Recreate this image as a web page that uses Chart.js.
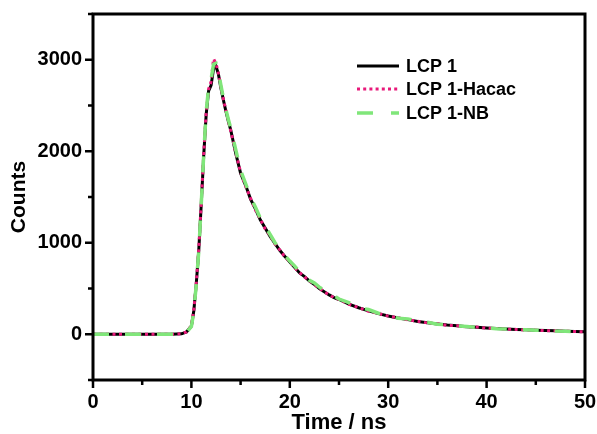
<!DOCTYPE html>
<html>
<head>
<meta charset="utf-8">
<script src="https://cdn.jsdelivr.net/npm/chart.js@4/dist/chart.umd.min.js"></script>
<style>
  html, body { margin: 0; padding: 0; background: #fff; }
  #wrap { width: 597px; height: 434px; position: relative; }
</style>
</head>
<body>
<div id="wrap"><canvas id="c"></canvas></div>
<script>
// time axis in ns (finer steps around the rise and peak)
const timeNs = [0, 2, 4, 6, 8, 9, 9.5, 10, 10.25, 10.5, 10.75, 11, 11.25, 11.5, 11.75, 12, 12.25, 12.5, 12.75, 13, 13.25, 13.5, 13.75, 14, 14.5, 15, 15.5, 16, 16.5, 17, 17.5, 18, 18.5, 19, 19.5, 20, 20.5, 21, 21.5, 22, 22.5, 23, 23.5, 24, 24.5, 25, 26, 27, 28, 29, 30, 31, 32, 33, 34, 35, 36, 37, 38, 39, 40, 41, 42, 43, 44, 45, 46, 47, 48, 49, 50]

const lcp1 = [0, 0, 0, 0, 0, 5, 25, 90, 260, 560, 920, 1420, 1950, 2400, 2660, 2720, 2900, 2930, 2840, 2690, 2560, 2440, 2330, 2230, 1980, 1760, 1630, 1480, 1370, 1250, 1160, 1070, 990, 915, 850, 790, 730, 670, 630, 580, 545, 500, 465, 430, 400, 380, 330, 290, 255, 225, 200, 178, 160, 140, 125, 112, 100, 92, 82, 76, 68, 62, 57, 52, 48, 44, 40, 37, 33, 30, 26]
const lcp1Hacac = [0, 0, 0, 0, 0, 5, 25, 95, 270, 570, 930, 1440, 1970, 2420, 2680, 2760, 3010, 2960, 2850, 2700, 2570, 2450, 2340, 2220, 1990, 1770, 1620, 1490, 1360, 1260, 1150, 1080, 985, 920, 845, 795, 725, 675, 625, 585, 540, 505, 460, 435, 398, 382, 328, 292, 252, 228, 198, 180, 158, 142, 123, 114, 98, 94, 80, 78, 66, 63, 55, 53, 46, 45, 39, 38, 32, 31, 25]
const lcp1NB = [0, 0, 0, 0, 0, 5, 20, 85, 250, 550, 910, 1420, 1960, 2430, 2700, 2790, 2950, 2960, 2870, 2720, 2580, 2460, 2350, 2250, 2020, 1790, 1650, 1500, 1390, 1270, 1180, 1090, 1000, 930, 860, 800, 745, 680, 645, 590, 560, 515, 480, 440, 420, 385, 345, 290, 270, 230, 212, 175, 168, 140, 132, 110, 105, 90, 85, 74, 70, 60, 58, 50, 48, 43, 41, 36, 34, 29, 27]

const seriesNames = ['LCP 1', 'LCP 1-Hacac', 'LCP 1-NB']
const xTickLabels = [0, 10, 20, 30, 40, 50]
const yTickLabels = [0, 1000, 2000, 3000]

const toPoints = arr => arr.map((v, i) => ({ x: timeNs[i], y: v }))

// frame box + outward major/minor ticks like the Origin plot
const frameTicks = {
  id: 'frameTicks',
  afterDraw (chart) {
    const { ctx, chartArea: a, scales: { x, y } } = chart
    ctx.save()
    ctx.strokeStyle = '#000'
    ctx.lineWidth = 3
    ctx.strokeRect(a.left, a.top, a.right - a.left, a.bottom - a.top)
    ctx.lineWidth = 2.5
    ctx.beginPath()
    x.ticks.forEach(t => {
      const px = x.getPixelForValue(t.value)
      const len = t.value % 10 === 0 ? 8 : 5
      ctx.moveTo(px, a.bottom)
      ctx.lineTo(px, a.bottom + len)
    })
    y.ticks.forEach(t => {
      const py = y.getPixelForValue(t.value)
      const len = t.value % 1000 === 0 ? 8 : 5
      ctx.moveTo(a.left, py)
      ctx.lineTo(a.left - len, py)
    })
    ctx.stroke()
    ctx.restore()
  }
}

// legend inside the plot, line samples then labels
const insideLegend = {
  id: 'insideLegend',
  afterDraw (chart) {
    const { ctx } = chart
    const x0 = 357
    const x1 = 399
    const rows = [66, 89, 113]
    ctx.save()
    chart.data.datasets.forEach((ds, i) => {
      ctx.beginPath()
      ctx.strokeStyle = ds.borderColor
      ctx.lineWidth = ds.borderWidth
      ctx.setLineDash(ds.legendDash || [])
      ctx.moveTo(x0, rows[i])
      ctx.lineTo(x1, rows[i])
      ctx.stroke()
      ctx.setLineDash([])
      ctx.fillStyle = '#000'
      ctx.font = "bold 18px 'Liberation Sans', Arial, sans-serif"
      ctx.textBaseline = 'middle'
      ctx.fillText(ds.label, 406, rows[i] + 1)
    })
    ctx.restore()
  }
}

const noScalePadding = scale => {
  scale.paddingTop = 0
  scale.paddingBottom = 0
  scale.paddingLeft = 0
  scale.paddingRight = 0
}

Chart.defaults.font.family = "'Liberation Sans', Arial, sans-serif"
Chart.defaults.color = '#000'

const ctx = document.getElementById('c')
new Chart(ctx, {
  type: 'line',
  data: {
    datasets: [
      {
        label: seriesNames[0],
        data: toPoints(lcp1),
        borderColor: '#000',
        borderWidth: 3,
        order: 3
      },
      {
        label: seriesNames[1],
        data: toPoints(lcp1Hacac),
        borderColor: '#e8197a',
        borderWidth: 3,
        borderDash: [3, 3.5],
        legendDash: [3, 3.2],
        order: 2
      },
      {
        label: seriesNames[2],
        data: toPoints(lcp1NB),
        borderColor: '#80e67a',
        borderWidth: 3.5,
        borderDash: [16, 16],
        legendDash: [16, 18],
        order: 1
      }
    ]
  },
  options: {
    responsive: true,
    maintainAspectRatio: false,
    animation: false,
    elements: {
      point: { radius: 0 },
      line: { tension: 0, fill: false }
    },
    layout: {
      padding: { top: 14, right: 12, left: 0, bottom: 0 }
    },
    plugins: {
      legend: { display: false },
      tooltip: { enabled: false }
    },
    scales: {
      x: {
        type: 'linear',
        min: 0,
        max: 50,
        grid: { display: false, drawTicks: false },
        border: { display: false },
        ticks: {
          stepSize: 5,
          autoSkip: false,
          maxRotation: 0,
          padding: 10,
          font: { size: 20, weight: 'bold' },
          callback: v => xTickLabels.includes(v) ? String(v) : ''
        },
        title: {
          display: true,
          text: 'Time / ns',
          font: { size: 22, weight: 'bold', lineHeight: 1 },
          padding: { top: 0, bottom: 0 }
        },
        afterFit: scale => {
          scale.height = 54
          noScalePadding(scale)
        }
      },
      y: {
        min: -500,
        max: 3500,
        grid: { display: false, drawTicks: false },
        border: { display: false },
        ticks: {
          stepSize: 500,
          autoSkip: false,
          padding: 11,
          font: { size: 20, weight: 'bold' },
          callback: v => yTickLabels.includes(v) ? String(v) : ''
        },
        title: {
          display: true,
          text: 'Counts',
          font: { size: 21, weight: 'bold', lineHeight: 1.2 },
          padding: { top: 7, bottom: 0 }
        },
        afterFit: scale => {
          scale.width = 93
          noScalePadding(scale)
        }
      }
    }
  },
  plugins: [frameTicks, insideLegend]
})
</script>
</body>
</html>
